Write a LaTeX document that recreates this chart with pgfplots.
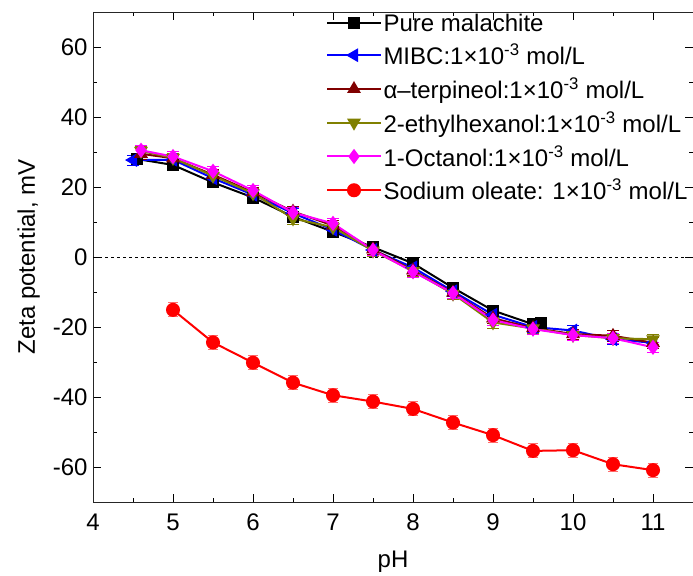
\documentclass[border=0pt]{standalone}
\usepackage{pgfplots}
\pgfplotsset{compat=1.18}
\usepackage{fontspec}
\setmainfont{Liberation Sans}
\definecolor{cdred}{RGB}{128,0,0}
\definecolor{colive}{RGB}{128,128,0}
\definecolor{cmag}{RGB}{255,0,255}
\definecolor{cerr}{RGB}{255,110,110}
\newcommand{\conc}{1×10\textsuperscript{-3} mol/L}
\begin{document}
\begin{tikzpicture}
\begin{axis}[
  scale only axis, width=600pt, height=490pt,
  xmin=4, xmax=11.5, ymin=-70, ymax=70,
  xtick={4,5,...,11}, ytick={-60,-40,...,60},
  minor x tick num=1, minor y tick num=1,
  tick align=inside, major tick length=8pt, minor tick length=4pt,
  tick style={black, line width=0.6pt},
  axis line style={line width=0.8pt, black!85},
  /pgf/number format/assume math mode=true,
  tick label style={font=\fontsize{24}{28}\selectfont},
  xticklabel style={yshift=-8pt},
  yticklabel style={xshift=-2pt},
  label style={font=\fontsize{24}{28}\selectfont},
  xlabel={pH}, ylabel={Zeta potential, mV},
  xlabel style={yshift=-14pt},
  ylabel style={yshift=6pt},
  legend style={draw=none, fill=none, at={(0.388,1.0)}, anchor=north west,
    font=\fontsize{24}{28}\selectfont, row sep=8.5pt, inner sep=0pt,
    nodes={inner sep=1.5pt}},
  legend cell align=left,
  legend image code/.code={\draw[mark repeat=2,mark phase=2,#1] plot coordinates {(0pt,0pt) (27pt,0pt) (54pt,0pt)};},
  every axis plot/.append style={line width=2pt},
  error bars/y dir=both, error bars/y explicit,
]
\addplot[black, forget plot, dashed, line width=0.7pt] coordinates {(4,0) (11.5,0)};
\addplot[black, mark=square*, mark size=5pt,
  error bars/error bar style={line width=0.8pt}] coordinates {
  (4.55,28) +- (0,1.2) (5,26.3) +- (0,1.2) (5.5,21.3) +- (0,1.2) (6,17) +- (0,1.2)
  (6.5,11.5) +- (0,1.2) (7,7.2) +- (0,1.2) (7.5,2.8) +- (0,1.2) (8,-1.8) +- (0,1.2)
  (8.5,-8.8) +- (0,1.2) (9,-15.3) +- (0,1.2) (9.5,-19.2) +- (0,1.2) (9.6,-18.8) +- (0,1.2)};
\addlegendentry{Pure malachite}
\addplot[blue, mark=triangle*, mark options={rotate=90}, mark size=6pt,
  error bars/error bar style={line width=0.8pt}] coordinates {
  (4.5,27.7) +- (0,1.5) (5,27.8) +- (0,1.5) (5.5,22.5) +- (0,1.5) (6,17.8) +- (0,1.5)
  (6.5,12.5) +- (0,1.5) (7,7.8) +- (0,1.5) (7.5,2) +- (0,1.5) (8,-3) +- (0,1.5)
  (8.5,-9.8) +- (0,1.5) (9,-16.5) +- (0,1.5) (9.5,-20) +- (0,1.5) (10,-21) +- (0,1.5)
  (10.5,-23.5) +- (0,1.5) (11,-24.5) +- (0,1.5)};
\addlegendentry{MIBC:\conc}
\addplot[cdred, mark=triangle*, mark size=6pt,
  error bars/error bar style={line width=0.8pt}] coordinates {
  (4.6,29.5) +- (0,1.5) (5,28.2) +- (0,1.5) (5.5,23.5) +- (0,1.5) (6,18.5) +- (0,1.5)
  (6.5,13) +- (0,1.5) (7,9) +- (0,1.5) (7.5,2.2) +- (0,1.5) (8,-3.8) +- (0,1.5)
  (8.5,-10.2) +- (0,1.5) (9,-17.5) +- (0,1.5) (9.5,-20.3) +- (0,1.5) (10,-22) +- (0,1.5)
  (10.5,-22.5) +- (0,1.5) (11,-24.5) +- (0,1.5)};
\addlegendentry{α–terpineol:\conc}
\addplot[colive, mark=triangle*, mark options={rotate=180}, mark size=6pt,
  error bars/error bar style={line width=0.8pt}] coordinates {
  (4.6,30.3) +- (0,1.5) (5,28.3) +- (0,1.5) (5.5,23.2) +- (0,1.5) (6,18.2) +- (0,1.5)
  (6.5,11) +- (0,1.5) (7,8.5) +- (0,1.5) (7.5,1.8) +- (0,1.5) (8,-4) +- (0,1.5)
  (8.5,-10.5) +- (0,1.5) (9,-18.7) +- (0,1.5) (9.5,-20.4) +- (0,1.5) (10,-22.3) +- (0,1.5)
  (10.5,-23.2) +- (0,1.5) (11,-23.5) +- (0,1.5)};
\addlegendentry{2-ethylhexanol:\conc}
\addplot[cmag, mark=diamond*, mark size=6pt,
  error bars/error bar style={line width=0.8pt}] coordinates {
  (4.6,30.5) +- (0,1.5) (5,28.7) +- (0,1.5) (5.5,24.5) +- (0,1.5) (6,19) +- (0,1.5)
  (6.5,12.7) +- (0,1.5) (7,9.6) +- (0,1.5) (7.5,2) +- (0,1.5) (8,-4.2) +- (0,1.5)
  (8.5,-10.3) +- (0,1.5) (9,-18) +- (0,1.5) (9.5,-20.6) +- (0,1.5) (10,-22.3) +- (0,1.5)
  (10.5,-23.2) +- (0,1.5) (11,-25.8) +- (0,1.5)};
\addlegendentry{1-Octanol:\conc}
\addplot[red, mark=*, mark size=6pt,
  error bars/error bar style={cerr, line width=1pt},
  error bars/error mark options={rotate=90, mark size=5pt, cerr, line width=1pt}] coordinates {
  (5,-15.1) +- (0,2) (5.5,-24.4) +- (0,2) (6,-30.2) +- (0,2) (6.5,-35.9) +- (0,2)
  (7,-39.5) +- (0,2) (7.5,-41.3) +- (0,2) (8,-43.4) +- (0,2) (8.5,-47.3) +- (0,2)
  (9,-50.9) +- (0,2) (9.5,-55.4) +- (0,2) (10,-55.2) +- (0,2) (10.5,-59.2) +- (0,2)
  (11,-60.9) +- (0,2)};
\addlegendentry{Sodium oleate: \conc}
\coordinate (sw) at (rel axis cs:0,0);
\coordinate (ne) at (rel axis cs:1,1);
\end{axis}
\pgfresetboundingbox
\path ([shift={(-93pt,-73pt)}]sw) rectangle ([shift={(0pt,12pt)}]ne);
\end{tikzpicture}
\end{document}
